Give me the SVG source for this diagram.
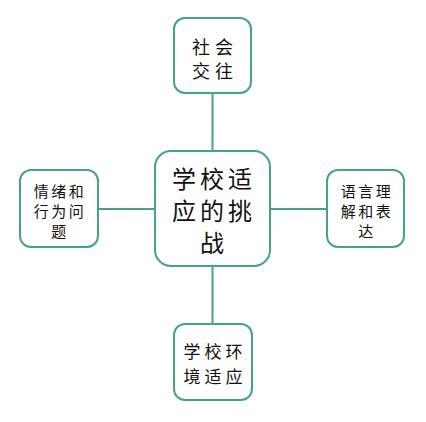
<svg xmlns="http://www.w3.org/2000/svg" width="426" height="422" viewBox="0 0 426 422">
<style>
.box{fill:#fff;stroke:#44a585;stroke-width:2}
.ln{stroke:#44a585;stroke-width:2;fill:none}
text{font-family:"Noto Sans CJK SC","Noto Sans",sans-serif;fill:#111;text-anchor:middle;dominant-baseline:central}
.c{font-size:24px;letter-spacing:4px}
.t{font-size:18px;letter-spacing:5px}
.s{font-size:15px;letter-spacing:2.5px}
.b{font-size:17px;letter-spacing:4px}
</style>
<rect width="426" height="422" fill="#fff"/>
<g id="connectors">
<line class="ln" x1="212.5" y1="93" x2="212.5" y2="151"/>
<line class="ln" x1="212.5" y1="266" x2="212.5" y2="324"/>
<line class="ln" x1="98" y1="209" x2="155" y2="209"/>
<line class="ln" x1="270" y1="209" x2="327" y2="209"/>
</g>
<g id="center">
<rect class="box" x="155" y="151" width="115" height="115" rx="16"/>
<text class="c" x="214" y="177">学校适</text>
<text class="c" x="214" y="209">应的挑</text>
<text class="c" x="214" y="241">战</text>
</g>
<g id="top">
<rect class="box" x="174" y="18" width="77" height="75" rx="11"/>
<text class="t" x="215" y="46">社会</text>
<text class="t" x="215" y="70">交往</text>
</g>
<g id="left">
<rect class="box" x="20" y="170" width="78" height="77" rx="11"/>
<text class="s" x="60" y="190">情绪和</text>
<text class="s" x="60" y="210">行为问</text>
<text class="s" x="60" y="230">题</text>
</g>
<g id="right">
<rect class="box" x="327" y="170" width="77" height="77" rx="11"/>
<text class="s" x="367" y="190">语言理</text>
<text class="s" x="367" y="210">解和表</text>
<text class="s" x="367" y="230">达</text>
</g>
<g id="bottom">
<rect class="box" x="174" y="324" width="78" height="76" rx="11"/>
<text class="b" x="215" y="350">学校环</text>
<text class="b" x="215" y="375">境适应</text>
</g>
</svg>
